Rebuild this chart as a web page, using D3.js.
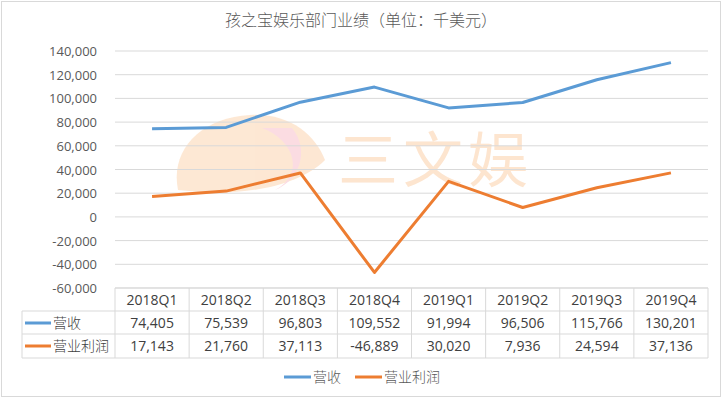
<!DOCTYPE html>
<html>
<head>
<meta charset="utf-8">
<script src="https://cdn.jsdelivr.net/npm/d3@7"></script>
<style>
  body { margin: 0; background: #fff; }
  svg text { font-family: "Open Sans", "Noto Sans CJK SC", sans-serif; }
</style>
</head>
<body>
<script>
// quarters and values (thousand USD)
var quarters = ["2018Q1", "2018Q2", "2018Q3", "2018Q4", "2019Q1", "2019Q2", "2019Q3", "2019Q4"];
var revenue = [74405, 75539, 96803, 109552, 91994, 96506, 115766, 130201];
var opProfit = [17143, 21760, 37113, -46889, 30020, 7936, 24594, 37136];
var seriesNames = ["营收", "营业利润"];
var yTicks = [-60000, -40000, -20000, 0, 20000, 40000, 60000, 80000, 100000, 120000, 140000];

var width = 722, height = 398;
var colors = ["#5B9BD5", "#ED7D31"];
// plain hyphen for negatives, like the original
var fmt = function(v) { return d3.format(",")(v).replace("\u2212", "-"); };

var svg = d3.select("body").append("svg")
  .attr("width", width)
  .attr("height", height);

// chart frame
svg.append("rect")
  .attr("x", 1.5).attr("y", 1.5)
  .attr("width", width - 3).attr("height", height - 3)
  .attr("fill", "#fff").attr("stroke", "#d9d9d9");

// title
svg.append("text")
  .attr("x", 361).attr("y", 26)
  .attr("text-anchor", "middle")
  .style("font-family", "'Noto Sans CJK SC', sans-serif")
  .style("font-size", "16px")
  .style("font-weight", 300)
  .attr("fill", "#595959")
  .text("孩之宝娱乐部门业绩（单位：千美元）");

var left = 115, right = 708;
var x = d3.scaleBand().domain(quarters).range([left, right]);
var y = d3.scaleLinear().domain([-60000, 140000]).range([288, 51]);

// watermark (rough)
var wm = svg.append("g").attr("opacity", 0.55);
wm.append("path")
  .attr("d", "M178,190 C170,150 200,118 250,115 C290,113 315,135 325,160 C300,185 250,195 200,192 Z")
  .attr("fill", "#fcd5b0");
wm.append("path")
  .attr("d", "M262,128 C295,140 305,175 275,190 C300,180 310,150 292,128 Z")
  .attr("fill", "#f9c0cc");
wm.append("text")
  .attr("x", 338).attr("y", 182)
  .style("font-family", "'Noto Sans CJK SC', sans-serif")
  .style("font-size", "60px")
  .style("font-weight", 400)
  .attr("letter-spacing", "5px")
  .attr("fill", "#fcd0a8")
  .text("三文娱");

// gridlines
svg.append("g")
  .selectAll("line")
  .data(yTicks)
  .enter().append("line")
  .attr("x1", left).attr("x2", right)
  .attr("y1", function(d) { return y(d); })
  .attr("y2", function(d) { return y(d); })
  .attr("stroke", "#d9d9d9").attr("stroke-width", 1);

// y axis labels
svg.append("g")
  .selectAll("text")
  .data(yTicks)
  .enter().append("text")
  .attr("x", 97)
  .attr("y", function(d) { return y(d) + 5; })
  .attr("text-anchor", "end")
  .style("font-size", "13px")
  .attr("fill", "#595959")
  .text(function(d) { return fmt(d); });

// lines
var line = d3.line()
  .x(function(d, i) { return x(quarters[i]) + x.bandwidth() / 2; })
  .y(function(d) { return y(d); });

[revenue, opProfit].forEach(function(s, k) {
  svg.append("path")
    .datum(s)
    .attr("d", line)
    .attr("fill", "none")
    .attr("stroke", colors[k])
    .attr("stroke-width", 3)
    .attr("stroke-linejoin", "round");
});

// data table
var rowY = [288, 311, 334, 358];
var tbl = svg.append("g").attr("stroke", "#d9d9d9").attr("stroke-width", 1);
rowY.forEach(function(ry, i) {
  tbl.append("line")
    .attr("x1", i === 0 ? left : 22).attr("x2", right)
    .attr("y1", ry).attr("y2", ry);
});
tbl.append("line").attr("x1", 22).attr("x2", 22).attr("y1", 311).attr("y2", 358);
quarters.concat(["end"]).forEach(function(q, i) {
  var xx = i < quarters.length ? x(q) : right;
  tbl.append("line").attr("x1", xx).attr("x2", xx).attr("y1", 288).attr("y2", 358);
});

// header row
svg.append("g")
  .selectAll("text")
  .data(quarters)
  .enter().append("text")
  .attr("x", function(d) { return x(d) + x.bandwidth() / 2; })
  .attr("y", 305)
  .attr("text-anchor", "middle")
  .style("font-size", "14px")
  .attr("fill", "#404040")
  .text(function(d) { return d; });

// value rows
[revenue, opProfit].forEach(function(s, k) {
  var cy = rowY[k + 1] + 17;
  var g = svg.append("g");
  g.append("line")
    .attr("x1", 25).attr("x2", 51)
    .attr("y1", cy - 5).attr("y2", cy - 5)
    .attr("stroke", colors[k]).attr("stroke-width", 3);
  g.append("text")
    .attr("x", 53).attr("y", cy)
    .style("font-family", "'Noto Sans CJK SC', sans-serif")
    .style("font-size", "14px")
    .style("font-weight", 300)
    .attr("fill", "#404040")
    .text(seriesNames[k]);
  g.selectAll("text.v")
    .data(s)
    .enter().append("text")
    .attr("class", "v")
    .attr("x", function(d, i) { return x(quarters[i]) + x.bandwidth() / 2; })
    .attr("y", cy)
    .attr("text-anchor", "middle")
    .style("font-size", "14px")
    .attr("fill", "#404040")
    .text(function(d) { return fmt(d); });
});

// legend
var legendX = [284, 355];
seriesNames.forEach(function(name, k) {
  svg.append("line")
    .attr("x1", legendX[k]).attr("x2", legendX[k] + 27)
    .attr("y1", 377).attr("y2", 377)
    .attr("stroke", colors[k]).attr("stroke-width", 3);
  svg.append("text")
    .attr("x", legendX[k] + 29).attr("y", 382)
    .style("font-family", "'Noto Sans CJK SC', sans-serif")
    .style("font-size", "14px")
    .style("font-weight", 300)
    .attr("fill", "#595959")
    .text(name);
});
</script>
</body>
</html>
